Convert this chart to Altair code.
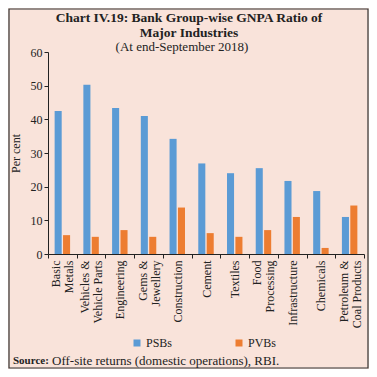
import altair as alt
import pandas as pd

categories = ["Basic|Metals", "Vehicles &|Vehicle Parts", "Engineering", "Gems &|Jewellery",
              "Construction", "Cement", "Textiles", "Food|Processing", "Infrastructure",
              "Chemicals", "Petroleum &|Coal Products"]
psbs = [42.5, 50.3, 43.4, 41.0, 34.2, 26.9, 24.0, 25.5, 21.7, 18.7, 11.0]
pvbs = [5.6, 5.1, 7.1, 5.1, 13.8, 6.2, 5.1, 7.1, 11.0, 1.8, 14.4]
series = ["PSBs", "PVBs"]
colors = ["#5b9bd5", "#ed7d31"]
title_lines = ["Chart IV.19: Bank Group-wise GNPA Ratio of", "Major Industries"]
subtitle = "(At end-September 2018)"
source_bold = "Source:"
source_text = "Off-site returns (domestic operations), RBI."

rows = []
for c, a, b in zip(categories, psbs, pvbs):
    rows.append({"cat": c, "grp": "PSBs", "val": a})
    rows.append({"cat": c, "grp": "PVBs", "val": b})
df = pd.DataFrame(rows)

FONT = "Liberation Serif"
INK = "#222"
W, H = 316, 202
PL, PT = 40, 44
TOTW, TOTH = 361, 361

bars = alt.Chart(df).mark_bar().encode(
    x=alt.X("cat:N", sort=categories, title=None,
            scale=alt.Scale(paddingInner=0, paddingOuter=0),
            axis=alt.Axis(labelAngle=-90, labelAlign="right", labelBaseline="middle",
                          labelExpr="split(datum.label, '|')", labelLineHeight=13,
                          labelOffset={"condition": {"test": "indexof(datum.label, '|') >= 0",
                                                     "value": -6.5}, "value": 0},
                          tickBand="extent", tickSize=4, labelPadding=2,
                          labelFont=FONT, labelFontSize=12, labelColor=INK,
                          domainColor=INK, tickColor=INK)),
    xOffset=alt.XOffset("grp:N", sort=series,
                        scale=alt.Scale(paddingInner=0.16, paddingOuter=0.79)),
    y=alt.Y("val:Q", title="Per cent",
            scale=alt.Scale(domain=[0, 60], nice=False),
            axis=alt.Axis(values=[0, 10, 20, 30, 40, 50, 60], grid=False, tickSize=4,
                          labelPadding=2, labelFont=FONT, labelFontSize=12, labelColor=INK,
                          titleFont=FONT, titleFontSize=12, titleFontWeight="normal",
                          titleColor=INK, titlePadding=8,
                          domainColor=INK, tickColor=INK)),
    color=alt.Color("grp:N", sort=series, title=None,
                    scale=alt.Scale(domain=series, range=colors),
                    legend=alt.Legend(orient="none", legendX=83, legendY=285,
                                      direction="horizontal", symbolType="square",
                                      symbolSize=49, symbolStrokeWidth=0,
                                      labelFont=FONT, labelFontSize=12, labelColor=INK,
                                      columnPadding=60, labelOffset=3)),
)


def txt(s, x, y, size, weight="normal", align="center"):
    return alt.Chart(pd.DataFrame({"t": [s]})).mark_text(
        font=FONT, fontSize=size, fontWeight=weight, align=align, baseline="middle", color=INK
    ).encode(text="t:N", x=alt.value(x), y=alt.value(y))


t1 = txt(title_lines[0], 141, -34, 13.5, "bold")
t2 = txt(title_lines[1], 141, -19, 13.5, "bold")
t3 = txt(subtitle, 134, -5, 13)
src_b = txt(source_bold, -35, 309, 11, "bold", "left")
src_r = txt(source_text, 4, 309, 13, "normal", "left")

border = alt.Chart(pd.DataFrame({"a": [0]})).mark_rect(
    fill=None, stroke="#333", strokeWidth=1.2
).encode(x=alt.value(-PL + 1), x2=alt.value(TOTW - PL - 1),
         y=alt.value(-PT + 1), y2=alt.value(TOTH - PT - 1))

chart = alt.layer(bars, t1, t2, t3, src_b, src_r, border).properties(
    width=W, height=H,
    autosize=alt.AutoSizeParams(type="none"),
    padding={"left": PL, "top": PT, "right": TOTW - PL - W, "bottom": TOTH - PT - H},
    background="#f9e3da",
).configure_view(stroke=None)

chart.save("out.html", embed_options={"renderer": "svg", "actions": False})
